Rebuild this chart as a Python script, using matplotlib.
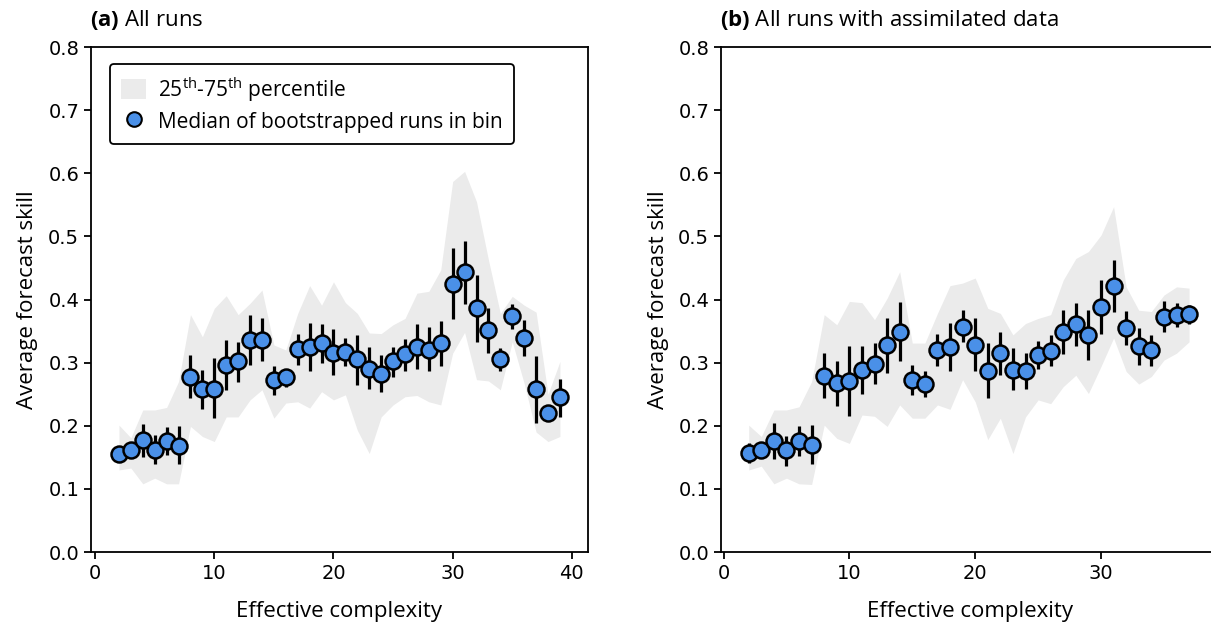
import matplotlib
matplotlib.use("Agg")
import matplotlib.pyplot as plt
from matplotlib.patches import Patch
from matplotlib.lines import Line2D
import numpy as np

label_font = "Open Sans"
plt.rcParams['mathtext.fontset'] = 'custom'
plt.rcParams['mathtext.rm'] = label_font
plt.rcParams['mathtext.bf'] = label_font + ':bold'

# ---- panel (a): all runs ----
x_a = np.arange(2, 40)
med_a = [0.155, 0.162, 0.177, 0.162, 0.176, 0.168, 0.278, 0.258, 0.258, 0.296,
         0.303, 0.336, 0.336, 0.273, 0.277, 0.321, 0.325, 0.331, 0.316, 0.317,
         0.305, 0.290, 0.282, 0.302, 0.313, 0.325, 0.320, 0.331, 0.425, 0.443,
         0.387, 0.352, 0.305, 0.374, 0.339, 0.258, 0.221, 0.245]
lo_a = [0.148, 0.152, 0.150, 0.139, 0.154, 0.139, 0.244, 0.226, 0.212, 0.257,
        0.270, 0.296, 0.303, 0.249, 0.262, 0.297, 0.287, 0.300, 0.280, 0.295,
        0.265, 0.258, 0.253, 0.277, 0.287, 0.290, 0.286, 0.294, 0.369, 0.393,
        0.332, 0.316, 0.286, 0.354, 0.311, 0.205, 0.212, 0.214]
hi_a = [0.163, 0.172, 0.203, 0.185, 0.198, 0.200, 0.312, 0.288, 0.307, 0.336,
        0.333, 0.376, 0.370, 0.295, 0.290, 0.345, 0.363, 0.361, 0.353, 0.339,
        0.344, 0.324, 0.312, 0.325, 0.338, 0.361, 0.356, 0.366, 0.481, 0.493,
        0.439, 0.387, 0.323, 0.393, 0.367, 0.310, 0.232, 0.274]
p25_a = [0.130, 0.133, 0.108, 0.117, 0.108, 0.108, 0.199, 0.183, 0.175, 0.214,
         0.214, 0.241, 0.257, 0.212, 0.236, 0.238, 0.228, 0.254, 0.241, 0.249,
         0.193, 0.156, 0.214, 0.233, 0.246, 0.248, 0.238, 0.233, 0.315, 0.348,
         0.273, 0.271, 0.257, 0.333, 0.267, 0.190, 0.175, 0.183]
p75_a = [0.201, 0.181, 0.225, 0.225, 0.229, 0.270, 0.376, 0.341, 0.386, 0.406,
         0.376, 0.394, 0.415, 0.328, 0.320, 0.378, 0.422, 0.391, 0.428, 0.395,
         0.378, 0.347, 0.346, 0.360, 0.370, 0.410, 0.413, 0.447, 0.587, 0.603,
         0.555, 0.463, 0.378, 0.405, 0.391, 0.380, 0.250, 0.302]

# ---- panel (b): all runs with assimilated data ----
x_b = np.arange(2, 38)
med_b = [0.157, 0.162, 0.176, 0.161, 0.176, 0.170, 0.279, 0.267, 0.271, 0.288,
         0.298, 0.328, 0.349, 0.273, 0.266, 0.320, 0.325, 0.357, 0.328, 0.287,
         0.316, 0.288, 0.287, 0.312, 0.319, 0.348, 0.361, 0.344, 0.388, 0.422,
         0.355, 0.327, 0.320, 0.373, 0.376, 0.377]
lo_b = [0.141, 0.150, 0.148, 0.137, 0.152, 0.139, 0.244, 0.231, 0.216, 0.250,
        0.266, 0.284, 0.302, 0.249, 0.245, 0.295, 0.287, 0.332, 0.286, 0.244,
        0.280, 0.256, 0.258, 0.290, 0.295, 0.313, 0.326, 0.304, 0.345, 0.380,
        0.328, 0.296, 0.295, 0.349, 0.357, 0.361]
hi_b = [0.172, 0.172, 0.204, 0.184, 0.199, 0.202, 0.315, 0.303, 0.327, 0.326,
        0.331, 0.371, 0.396, 0.297, 0.287, 0.345, 0.363, 0.383, 0.370, 0.331,
        0.349, 0.323, 0.315, 0.335, 0.344, 0.383, 0.395, 0.383, 0.431, 0.462,
        0.382, 0.355, 0.344, 0.397, 0.395, 0.391]
p25_b = [0.130, 0.136, 0.108, 0.117, 0.108, 0.107, 0.201, 0.180, 0.172, 0.217,
         0.215, 0.199, 0.233, 0.212, 0.212, 0.233, 0.226, 0.273, 0.238, 0.178,
         0.212, 0.156, 0.214, 0.241, 0.235, 0.262, 0.280, 0.251, 0.294, 0.339,
         0.286, 0.266, 0.278, 0.304, 0.315, 0.333]
p75_b = [0.201, 0.183, 0.225, 0.225, 0.230, 0.270, 0.376, 0.360, 0.397, 0.395,
         0.368, 0.402, 0.444, 0.331, 0.331, 0.378, 0.422, 0.426, 0.434, 0.386,
         0.378, 0.344, 0.362, 0.370, 0.376, 0.431, 0.465, 0.476, 0.502, 0.547,
         0.420, 0.383, 0.381, 0.407, 0.420, 0.418]

titles = ["All runs", "All runs with assimilated data"]
letters = ["(a)", "(b)"]
xticks_a = [0, 10, 20, 30, 40]
xticks_b = [0, 10, 20, 30]

band_color = "#ebebeb"
dot_color = "#4a90e8"

fig = plt.figure(figsize=(12.11, 6.27), dpi=100)
ax1 = fig.add_axes([0.0751, 0.1196, 0.4104, 0.8054])
ax2 = fig.add_axes([0.5954, 0.1196, 0.4104, 0.8054])

panels = [
    (ax1, x_a, med_a, lo_a, hi_a, p25_a, p75_a, (-0.35, 41.35), xticks_a),
    (ax2, x_b, med_b, lo_b, hi_b, p25_b, p75_b, (-0.2, 39.3), xticks_b),
]

for i, (ax, x, med, lo, hi, p25, p75, xl, xt) in enumerate(panels):
    med = np.array(med)
    ax.fill_between(x, p25, p75, color=band_color, linewidth=0, zorder=1)
    yerr = [med - np.array(lo), np.array(hi) - med]
    ax.errorbar(x, med, yerr=yerr, fmt='none', ecolor='black', elinewidth=2.3,
                zorder=2)
    ax.plot(x, med, 'o', markersize=11.5, markerfacecolor=dot_color,
            markeredgecolor='black', markeredgewidth=1.8, zorder=3)
    ax.set_xlim(*xl)
    ax.set_ylim(0, 0.8)
    ax.set_xticks(xt)
    ax.set_yticks(np.arange(0, 0.81, 0.1))
    ax.set_yticklabels([f"{v:.1f}" for v in np.arange(0, 0.81, 0.1)])
    ax.tick_params(labelsize=14, width=1.3, length=5)
    for s in ax.spines.values():
        s.set_linewidth(1.3)
    ax.set_xlabel("Effective complexity", fontsize=16, family=label_font,
                  labelpad=13)
    ax.set_ylabel("Average forecast skill", fontsize=16, family=label_font,
                  labelpad=7)
    ax.set_title(r"$\mathbf{" + letters[i] + r"}$ " + titles[i], loc='left',
                 fontsize=16, family=label_font, pad=15, x=-0.002)

handles = [
    Patch(facecolor=band_color, edgecolor='none'),
    Line2D([], [], marker='o', linestyle='none', markersize=10.5,
           markerfacecolor=dot_color, markeredgecolor='black',
           markeredgewidth=1.5),
]
leg = ax1.legend(handles,
                 [r"25$^{\rm th}$-75$^{\rm th}$ percentile",
                  "Median of bootstrapped runs in bin"],
                 loc='upper left', bbox_to_anchor=(0.017, 0.988),
                 prop={'family': label_font, 'size': 15},
                 frameon=True, fancybox=True, edgecolor='black',
                 handlelength=1.2, handleheight=1.1, handletextpad=0.55,
                 borderpad=0.55, labelspacing=0.35)
leg.get_frame().set_linewidth(1.3)
leg.get_frame().set_alpha(1)

fig.savefig("out.png", dpi=100)
